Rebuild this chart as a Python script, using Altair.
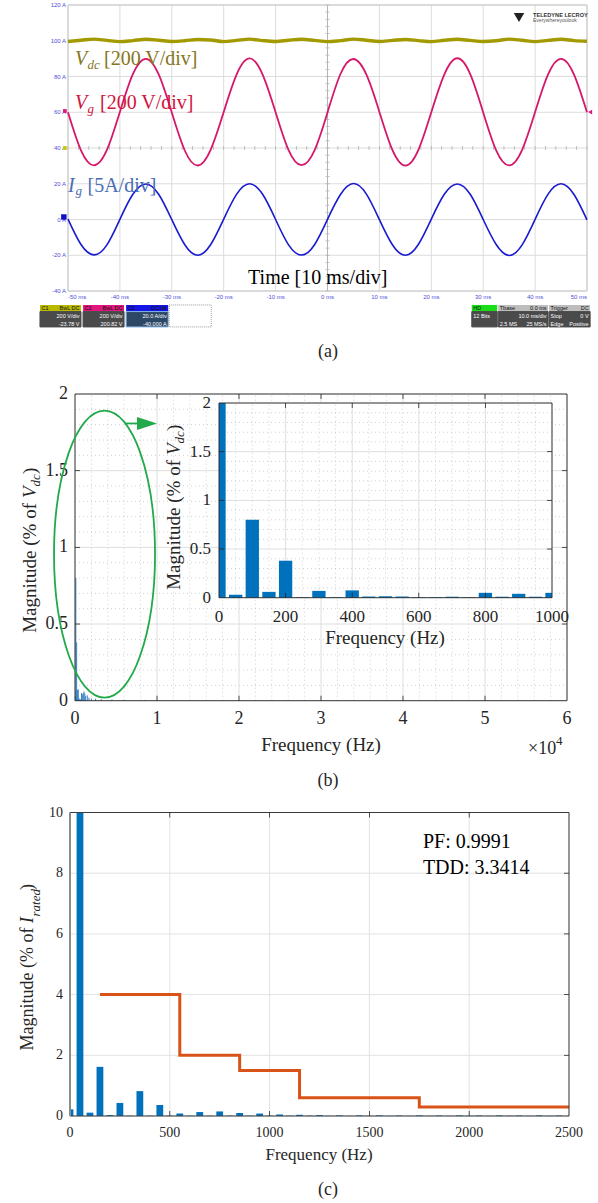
import altair as alt
import pandas as pd

W, H = 598, 1203
SERIF = "Liberation Serif"
SANS = "Liberation Sans"
INK = "#262626"

# ---------------- (a) oscilloscope capture ----------------
a_time = [-50.0, -47.5, -45.0, -42.5, -40.0, -37.5, -35.0, -32.5, -30.0, -27.5,
          -25.0, -22.5, -20.0, -17.5, -15.0, -12.5, -10.0, -7.5, -5.0, -2.5,
          0.0, 2.5, 5.0, 7.5, 10.0, 12.5, 15.0, 17.5, 20.0, 22.5,
          25.0, 27.5, 30.0, 32.5, 35.0, 37.5, 40.0, 42.5, 45.0, 47.5, 50.0]
a_vdc = [99.6, 100.3, 100.9, 100.2, 99.5, 100.1, 100.8, 100.3, 99.6, 100.0,
         100.7, 100.4, 99.5, 100.2, 100.9, 100.1, 99.6, 100.3, 100.8, 100.2,
         99.5, 100.1, 100.9, 100.3, 99.6, 100.2, 100.7, 100.1, 99.5, 100.3,
         100.8, 100.2, 99.6, 100.0, 100.9, 100.3, 99.5, 100.2, 100.8, 100.1, 99.7]
a_vg = [60.0, 38.7, 30.3, 38.9, 60.2, 81.3, 89.9, 81.0, 59.8, 38.6,
        30.2, 39.1, 60.1, 81.2, 90.1, 81.1, 60.0, 38.8, 30.4, 38.7,
        59.9, 81.4, 89.8, 81.0, 60.2, 38.9, 30.1, 38.8, 60.0, 81.1,
        90.2, 81.3, 59.9, 38.7, 30.3, 39.0, 60.1, 81.2, 89.9, 81.1, 60.0]
a_ig = [0.2, -14.0, -19.8, -14.2, 0.1, 14.1, 19.9, 14.0, -0.1, -14.1,
        -20.0, -14.0, 0.2, 14.2, 20.0, 14.1, 0.0, -14.2, -19.9, -14.1,
        0.1, 14.0, 20.1, 14.2, -0.1, -14.1, -20.0, -14.0, 0.2, 14.1,
        19.9, 14.1, 0.0, -14.0, -20.1, -14.2, 0.1, 14.2, 20.0, 14.0, -0.2]
a_xticks = [-50, -40, -30, -20, -10, 0, 10, 20, 30, 40, 50]
a_yticks = [-40, -20, 0, 20, 40, 60, 80, 100, 120]

# scope status boxes (C1, C2, C3, HD, Tbase, Trigger)
ui_x0 = [-55.4, -47.1, -38.8, 27.8, 32.9, 42.7]
ui_x1 = [-47.5, -39.2, -30.7, 32.7, 42.5, 50.6]
ui_head = ["#b9b900", "#e0177c", "#1515e6", "#19dd19", "#bdbdbd", "#bdbdbd"]
ui_body = ["#4a4a4a", "#4a4a4a", "#2d4866", "#4a4a4a", "#4a4a4a", "#4a4a4a"]
ui_edge = ["#4a4a4a", "#4a4a4a", "#7fb2e5", "#4a4a4a", "#4a4a4a", "#4a4a4a"]
ui_hl = ["C1", "C2", "C3", "HD", "Tbase", "Trigger"]
ui_hr = ["BwL DC", "BwL DC", "DC1M", "", "0.0 ms", "DC"]
ui_r1 = ["200 V/div", "200 V/div", "20.0 A/div", "", "10.0 ms/div", "0 V"]
ui_r2 = ["-23.78 V", "200.82 V", "-40.000 A", "", "25 MS/s", "Positive"]
ui_l1 = ["", "", "", "12 Bits", "", "Stop"]
ui_l2 = ["", "", "", "", "2.5 MS", "Edge"]

# ---------------- (b) Vdc spectrum ----------------
b_freq = [0.005, 0.01, 0.015, 0.02, 0.025, 0.03, 0.035, 0.04, 0.045, 0.05, 0.06, 0.07,
          0.08, 0.09, 0.1, 0.11, 0.12, 0.13, 0.15, 0.17, 0.2, 0.25, 0.32, 0.45, 0.6, 0.85]
b_mag = [0.03, 0.8, 0.06, 0.38, 0.005, 0.07, 0.005, 0.075, 0.012, 0.015, 0.008, 0.01,
         0.05, 0.04, 0.05, 0.06, 0.045, 0.03, 0.035, 0.02, 0.015, 0.012, 0.01, 0.008, 0.006, 0.005]
b_xticks = [0, 1, 2, 3, 4, 5, 6]
b_yticks = [0, 0.5, 1, 1.5, 2]
inset_freq = [0, 50, 100, 150, 200, 250, 300, 350, 400, 450, 500,
              550, 600, 650, 700, 750, 800, 850, 900, 950, 1000]
inset_mag = [2.0, 0.03, 0.8, 0.06, 0.38, 0.005, 0.07, 0.005, 0.075, 0.012, 0.015,
             0.012, 0.005, 0.005, 0.01, 0.005, 0.05, 0.01, 0.04, 0.01, 0.05]
inset_xticks = [0, 200, 400, 600, 800, 1000]
inset_yticks = [0, 0.5, 1, 1.5, 2]

# ---------------- (c) grid-current spectrum ----------------
c_freq = [0, 50, 100, 150, 200, 250, 300, 350, 400, 450,
          500, 550, 600, 650, 700, 750, 800, 850, 900, 950,
          1000, 1050, 1100, 1150, 1200, 1250, 1300, 1350, 1400, 1450,
          1500, 1550, 1600, 1650, 1700, 1750, 1800, 1850, 1900, 1950,
          2000, 2050, 2100, 2150, 2200, 2250, 2300, 2350, 2400, 2450, 2500]
c_mag = [0.22, 10.0, 0.11, 1.62, 0.03, 0.43, 0.01, 0.82, 0.01, 0.36,
         0.01, 0.08, 0.01, 0.13, 0.01, 0.15, 0.01, 0.10, 0.01, 0.08,
         0.01, 0.05, 0.01, 0.04, 0.01, 0.03, 0.005, 0.02, 0.005, 0.02,
         0.005, 0.02, 0.005, 0.015, 0.005, 0.02, 0.005, 0.015, 0.005, 0.02,
         0.005, 0.015, 0.005, 0.02, 0.005, 0.015, 0.005, 0.02, 0.005, 0.015, 0.005]
c_limit_freq = [150, 550, 850, 1150, 1750, 2500]
c_limit_mag = [4.0, 2.0, 1.5, 0.6, 0.3, 0.3]
c_xticks = [0, 500, 1000, 1500, 2000, 2500]
c_yticks = [0, 2, 4, 6, 8, 10]

# minor grid / center-line tick positions
b_xminor = [round(0.2 * i, 1) for i in range(1, 30) if i % 5]
b_yminor = [round(0.1 * i, 1) for i in range(1, 20) if i % 5]
i_xminor = [50 * i for i in range(1, 20) if i % 4]
a_cx = [-50 + 2 * i for i in range(51)]
a_cy = [-40 + 4 * i for i in range(41)]

ONE = pd.DataFrame({"k": [0]})


def num(v):
    return f"{v:g}"


def sc(domain, rng, clamp=False):
    return alt.Scale(domain=domain, range=rng, nice=False, zero=False, clamp=clamp)


A_X = sc([-50, 50], [68, 587])
A_Y = sc([-40, 120], [291, 5])
B_X = sc([0, 6], [75, 567])
B_Y = sc([0, 2], [700.7, 394])
I_X = sc([0, 1000], [219, 552], True)
I_Y = sc([0, 2], [597.7, 403], True)
C_X = sc([0, 2500], [70, 569], True)
C_Y = sc([0, 10], [1116, 812.5], True)


def vrules(vals, XS, YS, y0, y1, color, width=1.0, dash=None):
    mk = {"color": color, "strokeWidth": width}
    if dash:
        mk["strokeDash"] = dash
    return alt.Chart(pd.DataFrame({"v": vals})).mark_rule(**mk).encode(
        x=alt.X("v:Q", scale=XS, axis=None),
        y=alt.YDatum(y0, scale=YS, axis=None), y2=alt.Y2Datum(y1))


def hrules(vals, XS, YS, x0, x1, color, width=1.0, dash=None):
    mk = {"color": color, "strokeWidth": width}
    if dash:
        mk["strokeDash"] = dash
    return alt.Chart(pd.DataFrame({"v": vals})).mark_rule(**mk).encode(
        y=alt.Y("v:Q", scale=YS, axis=None),
        x=alt.XDatum(x0, scale=XS, axis=None), x2=alt.X2Datum(x1))


def xlabels(vals, texts, XS, YS, at, dy, size, color=INK, font=SERIF, align="center"):
    df = pd.DataFrame({"v": vals, "t": texts})
    return alt.Chart(df).mark_text(align=align, baseline="middle", font=font, fontSize=size,
                                   color=color, dy=dy).encode(
        x=alt.X("v:Q", scale=XS, axis=None), y=alt.YDatum(at, scale=YS, axis=None),
        text="t:N")


def ylabels(vals, texts, XS, YS, at, dx, size, color=INK, font=SERIF):
    df = pd.DataFrame({"v": vals, "t": texts})
    return alt.Chart(df).mark_text(align="right", baseline="middle", font=font, fontSize=size,
                                   color=color, dx=dx).encode(
        y=alt.Y("v:Q", scale=YS, axis=None), x=alt.XDatum(at, scale=XS, axis=None),
        text="t:N")


def box(XS, YS, x0, x1, y0, y1, **mk):
    return alt.Chart(ONE).mark_rect(**mk).encode(
        x=alt.XDatum(x0, scale=XS, axis=None), x2=alt.X2Datum(x1),
        y=alt.YDatum(y0, scale=YS, axis=None), y2=alt.Y2Datum(y1))


def inticks(vals, XS, YS, side, at, length=5, color=INK):
    df = pd.DataFrame({"v": vals})
    if side in ("bottom", "top"):
        off = -length / 2 if side == "bottom" else length / 2
        return alt.Chart(df).mark_tick(orient="vertical", size=length, thickness=0.8,
                                       color=color, opacity=1, yOffset=off).encode(
            x=alt.X("v:Q", scale=XS, axis=None), y=alt.YDatum(at, scale=YS, axis=None))
    off = length / 2 if side == "left" else -length / 2
    return alt.Chart(df).mark_tick(orient="horizontal", size=length, thickness=0.8,
                                   color=color, opacity=1, xOffset=off).encode(
        y=alt.Y("v:Q", scale=YS, axis=None), x=alt.XDatum(at, scale=XS, axis=None))


def dtext(XS, YS, x, y, text, size, color=INK, italic=False, dx=0, dy=0, align="left",
          baseline="alphabetic", font=SERIF, weight="normal"):
    return alt.Chart(ONE).mark_text(text=text, align=align, baseline=baseline, font=font,
                                    fontSize=size, fontStyle="italic" if italic else "normal",
                                    fontWeight=weight, color=color, dx=dx, dy=dy).encode(
        x=alt.XDatum(x, scale=XS, axis=None), y=alt.YDatum(y, scale=YS, axis=None))


def ptext(x, y, text, size, color=INK, italic=False, dx=0, dy=0, align="left",
          baseline="alphabetic", angle=0, font=SERIF):
    return alt.Chart(ONE).mark_text(text=text, align=align, baseline=baseline, font=font,
                                    fontSize=size, fontStyle="italic" if italic else "normal",
                                    color=color, dx=dx, dy=dy, angle=angle).encode(
        x=alt.value(x), y=alt.value(y))


# ======================= panel (a) =======================
a_df = pd.DataFrame({"t": a_time, "vdc": a_vdc, "vg": a_vg, "ig": a_ig})
SCOPE_LBL = "#5050d8"


def trace(col, color, width, interp):
    return alt.Chart(a_df).mark_line(color=color, strokeWidth=width, interpolate=interp).encode(
        x=alt.X("t:Q", scale=A_X, axis=None), y=alt.Y(col + ":Q", scale=A_Y, axis=None))


ui_df = pd.DataFrame({"x0": ui_x0, "x1": ui_x1, "head": ui_head, "body": ui_body,
                      "edge": ui_edge, "hl": ui_hl, "hr": ui_hr, "r1": ui_r1,
                      "r2": ui_r2, "l1": ui_l1, "l2": ui_l2})


def ui_rect(y0, y1, fill_col, stroke_col=None):
    enc = dict(x=alt.X("x0:Q", scale=A_X, axis=None), x2="x1:Q",
               y=alt.YDatum(y0, scale=A_Y, axis=None), y2=alt.Y2Datum(y1),
               fill=alt.Fill(fill_col + ":N", scale=None))
    if stroke_col:
        enc["stroke"] = alt.Stroke(stroke_col + ":N", scale=None)
    return alt.Chart(ui_df).mark_rect(strokeWidth=1).encode(**enc)


def ui_text(col, xcol, y, align, dx, color):
    return alt.Chart(ui_df).mark_text(align=align, baseline="middle", font=SANS, fontSize=5.5,
                                      color=color, dx=dx).encode(
        x=alt.X(xcol + ":Q", scale=A_X, axis=None),
        y=alt.YDatum(y, scale=A_Y, axis=None), text=col + ":N")


markers = pd.DataFrame({"t": [-50.6, -50.6, -50.8, 50.6], "v": [40.0, 60.7, 1.4, 60.1],
                        "c": ["#c8c800", "#e0177c", "#1010c8", "#e0177c"],
                        "s": ["square", "square", "square", "triangle-left"],
                        "z": [14, 14, 30, 22]})

VDC_T, VG_T, IG_T = "#86761c", "#d2143c", "#4a6db2"
a_xtext = [f"{v} ms" for v in a_xticks]
a_ytext = [f"{v} A" for v in a_yticks]

panel_a = alt.layer(
    vrules(a_xticks, A_X, A_Y, -40, 120, "#dcdcdc", 1),
    hrules(a_yticks, A_X, A_Y, -50, 50, "#dcdcdc", 1),
    vrules([0], A_X, A_Y, -40, 120, "#b4b4b4", 1),
    alt.Chart(pd.DataFrame({"v": a_cx})).mark_tick(orient="vertical", size=4, thickness=0.8,
                                                   color="#b4b4b4", opacity=1).encode(
        x=alt.X("v:Q", scale=A_X, axis=None), y=alt.YDatum(40, scale=A_Y, axis=None)),
    alt.Chart(pd.DataFrame({"v": a_cy})).mark_tick(orient="horizontal", size=4, thickness=0.8,
                                                   color="#b4b4b4", opacity=1).encode(
        y=alt.Y("v:Q", scale=A_Y, axis=None), x=alt.XDatum(0, scale=A_X, axis=None)),
    box(A_X, A_Y, -50, 50, -40, 120, fillOpacity=0, stroke="#c8c8c8", strokeWidth=1),
    # scope tick labels (first/last flush with the grid edges)
    xlabels(a_xticks[:1], a_xtext[:1], A_X, A_Y, -40, 5.5, 6, SCOPE_LBL, SANS, "left"),
    xlabels(a_xticks[1:-1], a_xtext[1:-1], A_X, A_Y, -40, 5.5, 6, SCOPE_LBL, SANS),
    xlabels(a_xticks[-1:], a_xtext[-1:], A_X, A_Y, -40, 5.5, 6, SCOPE_LBL, SANS, "right"),
    ylabels(a_yticks, a_ytext, A_X, A_Y, -50, -2, 6, SCOPE_LBL, SANS),
    trace("vdc", "#a29a00", 3.4, "monotone"),
    trace("vg", "#d6186a", 1.8, "natural"),
    trace("ig", "#1a1ad0", 1.6, "natural"),
    alt.Chart(markers).mark_point(filled=True, opacity=1).encode(
        x=alt.X("t:Q", scale=A_X, axis=None), y=alt.Y("v:Q", scale=A_Y, axis=None),
        color=alt.Color("c:N", scale=None), shape=alt.Shape("s:N", scale=None),
        size=alt.Size("z:Q", scale=None)),
    # trace labels
    dtext(A_X, A_Y, -48.65, 86.4, "V", 20, VDC_T, italic=True),
    dtext(A_X, A_Y, -48.65, 86.4, "dc", 13, VDC_T, italic=True, dx=12.5, dy=3.5),
    dtext(A_X, A_Y, -48.65, 86.4, "[200 V/div]", 20, VDC_T, dx=29),
    dtext(A_X, A_Y, -48.65, 61.8, "V", 20, VG_T, italic=True),
    dtext(A_X, A_Y, -48.65, 61.8, "g", 13, VG_T, italic=True, dx=12.5, dy=3.5),
    dtext(A_X, A_Y, -48.65, 61.8, "[200 V/div]", 20, VG_T, dx=25),
    dtext(A_X, A_Y, -50, 15.4, "I", 20, IG_T, italic=True),
    dtext(A_X, A_Y, -50, 15.4, "g", 13, IG_T, italic=True, dx=7.5, dy=3.5),
    dtext(A_X, A_Y, -50, 15.4, "[5A/div]", 20, IG_T, dx=19.5),
    dtext(A_X, A_Y, -15.3, -36.1, "Time [10 ms/div]", 20, "black"),
    # logo
    alt.Chart(ONE).mark_point(shape="triangle-down", filled=True, color="#222222",
                              size=110, opacity=1).encode(
        x=alt.XDatum(36.9, scale=A_X, axis=None), y=alt.YDatum(113.0, scale=A_Y, axis=None)),
    dtext(A_X, A_Y, 39.6, 114.6, "TELEDYNE LECROY", 5.6, "#333333", baseline="middle",
          font=SANS, weight="bold"),
    dtext(A_X, A_Y, 39.6, 111.4, "Everywhereyoulook", 5, "#555555", baseline="middle",
          font=SANS),
    # status boxes under the grid
    ui_rect(-47.8, -51.5, "head"),
    ui_rect(-51.5, -60.1, "body", "edge"),
    box(A_X, A_Y, -30.5, -22.4, -47.8, -60.1, fillOpacity=0, stroke="#9a9a9a",
        strokeWidth=1, strokeDash=[1, 1]),
    ui_text("hl", "x0", -49.65, "left", 1.5, "#111111"),
    ui_text("hr", "x1", -49.65, "right", -1.5, "#111111"),
    ui_text("r1", "x1", -54.0, "right", -1.5, "white"),
    ui_text("r2", "x1", -58.2, "right", -1.5, "white"),
    ui_text("l1", "x0", -54.0, "left", 1.5, "white"),
    ui_text("l2", "x0", -58.2, "left", 1.5, "white"),
)

# ======================= panel (b) main =======================
ELLIPSE = ("M0,-1 C0.1944,-1 0.352,-0.5523 0.352,0 C0.352,0.5523 0.1944,1 0,1 "
           "C-0.1944,1 -0.352,0.5523 -0.352,0 C-0.352,-0.5523 -0.1944,-1 0,-1 Z")
ARROW = "M-1,-0.65 L1,0 L-1,0.65 Z"
GREEN = "#22aa4a"
MINOR = "#c4c4c4"
MAJOR = "#dedede"

panel_b = alt.layer(
    vrules(b_xminor, B_X, B_Y, 0, 2, MINOR, 0.8, dash=[1, 3]),
    hrules(b_yminor, B_X, B_Y, 0, 6, MINOR, 0.8, dash=[1, 3]),
    vrules(b_xticks, B_X, B_Y, 0, 2, MAJOR, 1),
    hrules(b_yticks, B_X, B_Y, 0, 6, MAJOR, 1),
    xlabels(b_xticks, [num(v) for v in b_xticks], B_X, B_Y, 0, 18.3, 18),
    ylabels(b_yticks, [num(v) for v in b_yticks], B_X, B_Y, 0, -7, 18),
    alt.Chart(pd.DataFrame({"f": b_freq, "m": b_mag})).mark_rule(
        color="#3a80c5", strokeWidth=1).encode(
        x=alt.X("f:Q", scale=B_X, axis=None), y=alt.Y("m:Q", scale=B_Y, axis=None),
        y2=alt.Y2Datum(0)),
    box(B_X, B_Y, 0, 6, 0, 2, fillOpacity=0, stroke=INK, strokeWidth=0.9),
    inticks(b_xticks[1:-1], B_X, B_Y, "bottom", 0),
    inticks(b_xticks[1:-1], B_X, B_Y, "top", 2),
    inticks(b_yticks[1:-1], B_X, B_Y, "left", 0),
    inticks(b_yticks[1:-1], B_X, B_Y, "right", 6),
    alt.Chart(ONE).mark_point(shape=ELLIPSE, size=287 * 287, filled=False, stroke=GREEN,
                              strokeWidth=1.8, opacity=1).encode(
        x=alt.XDatum(0.36, scale=B_X, axis=None), y=alt.YDatum(0.956, scale=B_Y, axis=None)),
    alt.Chart(ONE).mark_rule(color=GREEN, strokeWidth=1.8).encode(
        x=alt.XDatum(0.61, scale=B_X, axis=None), x2=alt.X2Datum(0.8),
        y=alt.YDatum(1.808, scale=B_Y, axis=None)),
    alt.Chart(ONE).mark_point(shape=ARROW, size=400, filled=True, color=GREEN,
                              opacity=1).encode(
        x=alt.XDatum(0.878, scale=B_X, axis=None), y=alt.YDatum(1.808, scale=B_Y, axis=None)),
)

# ======================= panel (b) inset =======================
panel_inset = alt.layer(
    box(I_X, I_Y, 0, 1000, 0, 2, color="white", strokeWidth=0),
    vrules(i_xminor, I_X, I_Y, 0, 2, MINOR, 0.8, dash=[1, 3]),
    hrules(b_yminor, I_X, I_Y, 0, 1000, MINOR, 0.8, dash=[1, 3]),
    vrules(inset_xticks, I_X, I_Y, 0, 2, MAJOR, 1),
    hrules(inset_yticks, I_X, I_Y, 0, 1000, MAJOR, 1),
    xlabels(inset_xticks, [num(v) for v in inset_xticks], I_X, I_Y, 0, 19, 17),
    ylabels(inset_yticks, [num(v) for v in inset_yticks], I_X, I_Y, 0, -8, 17),
    alt.Chart(pd.DataFrame({"f": inset_freq, "m": inset_mag})).transform_calculate(
        f0="datum.f - 20", f1="datum.f + 20").mark_rect(color="#0072bd").encode(
        x=alt.X("f0:Q", scale=I_X, axis=None), x2="f1:Q",
        y=alt.Y("m:Q", scale=I_Y, axis=None), y2=alt.Y2Datum(0)),
    box(I_X, I_Y, 0, 1000, 0, 2, fillOpacity=0, stroke=INK, strokeWidth=0.9),
    inticks(inset_xticks[1:-1], I_X, I_Y, "bottom", 0),
    inticks(inset_xticks[1:-1], I_X, I_Y, "top", 2),
    inticks(inset_yticks[1:-1], I_X, I_Y, "left", 0),
    inticks(inset_yticks[1:-1], I_X, I_Y, "right", 1000),
)

# ======================= panel (c) =======================
panel_c = alt.layer(
    vrules(c_xticks, C_X, C_Y, 0, 10, "#e3e3e3", 1),
    hrules(c_yticks, C_X, C_Y, 0, 2500, "#e3e3e3", 1),
    xlabels(c_xticks, [num(v) for v in c_xticks], C_X, C_Y, 0, 17, 14),
    ylabels(c_yticks, [num(v) for v in c_yticks], C_X, C_Y, 0, -7, 14),
    alt.Chart(pd.DataFrame({"f": c_freq, "m": c_mag})).transform_calculate(
        f0="datum.f - 17", f1="datum.f + 17").mark_rect(color="#0072bd").encode(
        x=alt.X("f0:Q", scale=C_X, axis=None), x2="f1:Q",
        y=alt.Y("m:Q", scale=C_Y, axis=None), y2=alt.Y2Datum(0)),
    alt.Chart(pd.DataFrame({"f": c_limit_freq, "m": c_limit_mag})).mark_line(
        color="#d95319", strokeWidth=3, interpolate="step-after").encode(
        x=alt.X("f:Q", scale=C_X, axis=None), y=alt.Y("m:Q", scale=C_Y, axis=None)),
    box(C_X, C_Y, 0, 2500, 0, 10, fillOpacity=0, stroke="#3a3a3a", strokeWidth=1),
    vrules([0], C_X, C_Y, 0, 10, "#8c8c8c", 2),
    inticks(c_xticks[1:-1], C_X, C_Y, "bottom", 0),
    inticks(c_xticks[1:-1], C_X, C_Y, "top", 10),
    inticks(c_yticks[1:-1], C_X, C_Y, "right", 2500),
    dtext(C_X, C_Y, 1768, 8.84, "PF: 0.9991", 20, "black"),
    dtext(C_X, C_Y, 1768, 7.98, "TDD: 3.3414", 20, "black"),
)

# ======================= titles & captions =======================
notes = alt.layer(
    # (b) main axis titles
    ptext(321, 745, "Frequency (Hz)", 19, align="center", baseline="middle"),
    ptext(36, 503, "Magnitude (% of", 19, align="right", angle=270),
    ptext(36, 503, "V", 19, italic=True, angle=270, dx=5),
    ptext(36, 503, "dc", 13, italic=True, angle=270, dx=16.6, dy=4),
    ptext(36, 503, ")", 19, angle=270, dx=29),
    ptext(528, 754, "\u00d710", 18),
    ptext(556, 745, "4", 13),
    # (b) inset axis titles
    ptext(385, 638, "Frequency (Hz)", 19, align="center", baseline="middle"),
    ptext(180, 460, "Magnitude (% of", 19, align="right", angle=270),
    ptext(180, 460, "V", 19, italic=True, angle=270, dx=5),
    ptext(180, 460, "dc", 13, italic=True, angle=270, dx=16.6, dy=4),
    ptext(180, 460, ")", 19, angle=270, dx=29),
    # (c) axis titles
    ptext(319, 1155, "Frequency (Hz)", 17, align="center", baseline="middle"),
    ptext(33, 927.5, "Magnitude (% of", 18, align="right", angle=270),
    ptext(33, 927.5, "I", 18, italic=True, angle=270, dx=4.5),
    ptext(33, 927.5, "rated", 13, italic=True, angle=270, dx=11, dy=7),
    ptext(33, 927.5, ")", 18, angle=270, dx=37.5),
    # captions
    ptext(328, 352, "(a)", 18, align="center", baseline="middle"),
    ptext(328, 781, "(b)", 18, align="center", baseline="middle"),
    ptext(328, 1190, "(c)", 18, align="center", baseline="middle"),
)

chart = alt.layer(panel_a, panel_b, panel_inset, panel_c, notes).resolve_scale(
    x="independent", y="independent"
).properties(
    width=W, height=H, autosize=alt.AutoSizeParams(type="none"), padding=0,
    background="white"
).configure_view(strokeWidth=0)

chart.save("out.html", embed_options={"renderer": "svg", "actions": False})
